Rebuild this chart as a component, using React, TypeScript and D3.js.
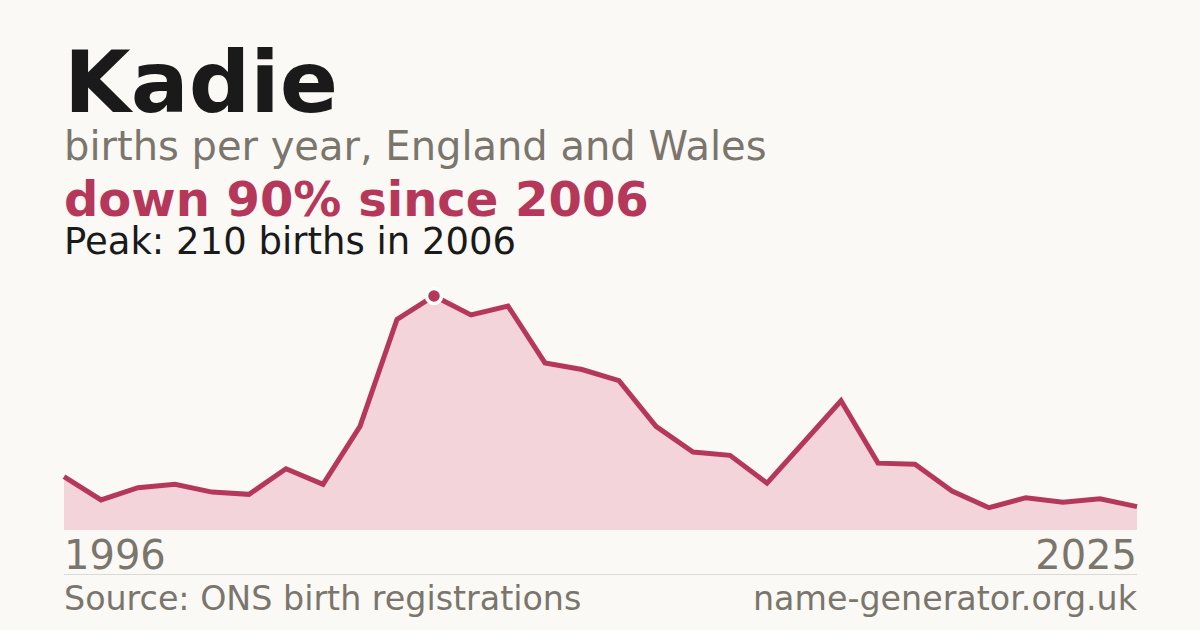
import React from "react";
import * as d3 from "d3";

const years: number[] = d3.range(1996, 2026);
const births: number[] = [
  48, 27, 38, 41, 34, 32, 55, 41, 93, 189,
  210, 193, 201, 150, 144, 134, 93, 70, 67, 42,
  79, 116, 60, 59, 35, 20, 29, 25, 28, 21,
];
const title = "Kadie";
const subtitle = "births per year, England and Wales";
const headline = "down 90% since 2006";
const peakNote = "Peak: 210 births in 2006";
const source = "Source: ONS birth registrations";
const site = "name-generator.org.uk";

const W = 1200;
const H = 630;
const FONT = "'DejaVu Sans', sans-serif";
const RED = "#b5385a";
const GREY = "#7a756d";

export default function App() {
  const x = d3.scaleLinear().domain([1996, 2025]).range([64, 1137]);
  const y = d3.scaleLinear().domain([0, 210]).range([530, 296]);
  const data = years.map((yr, i) => ({ yr, v: births[i] }));
  const area = d3
    .area<{ yr: number; v: number }>()
    .x((d) => x(d.yr))
    .y0(y(0))
    .y1((d) => y(d.v));
  const line = d3
    .line<{ yr: number; v: number }>()
    .x((d) => x(d.yr))
    .y((d) => y(d.v));
  const peakIdx = births.indexOf(d3.max(births) as number);
  const peak = data[peakIdx];

  return (
    <svg
      width={W}
      height={H}
      style={{ position: "absolute", left: 0, top: 0, display: "block" }}
      fontFamily={FONT}
    >
      <rect width={W} height={H} fill="#faf9f5" />
      <text x={64} y={112} fontSize={86} fontWeight="bold" fill="#1a1a1a">
        {title}
      </text>
      <text x={64} y={160} fontSize={40} fill={GREY}>
        {subtitle}
      </text>
      <text x={64} y={216} fontSize={48} fontWeight="bold" fill={RED}>
        {headline}
      </text>
      <text x={64} y={253.5} fontSize={37} fill="#1a1a1a">
        {peakNote}
      </text>

      <path d={area(data) || ""} fill="#f2d4da" />
      <path
        d={line(data) || ""}
        fill="none"
        stroke={RED}
        strokeWidth={5}
        strokeLinejoin="miter"
      />
      <circle
        cx={x(peak.yr)}
        cy={y(peak.v)}
        r={7.5}
        fill={RED}
        stroke="#ffffff"
        strokeWidth={3.5}
      />

      <text x={64} y={569} fontSize={40} fill={GREY}>
        {years[0]}
      </text>
      <text x={1137} y={569} fontSize={40} fill={GREY} textAnchor="end">
        {years[years.length - 1]}
      </text>
      <line x1={64} x2={1137} y1={574.5} y2={574.5} stroke="#dcd9d2" strokeWidth={1} />
      <text x={64} y={610} fontSize={33.3} fill={GREY}>
        {source}
      </text>
      <text x={1137} y={610} fontSize={33.3} fill={GREY} textAnchor="end">
        {site}
      </text>
    </svg>
  );
}
